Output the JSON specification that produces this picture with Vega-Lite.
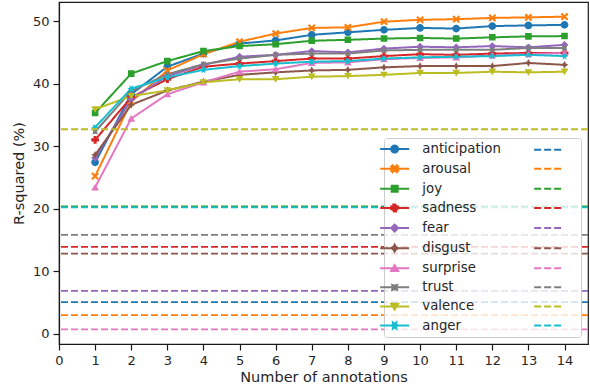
{
  "$schema": "https://vega.github.io/schema/vega-lite/v6.json",
  "autosize": "none",
  "width": 529,
  "height": 342,
  "padding": {"left": 59, "top": 2, "right": 2, "bottom": 48},
  "background": "white",
  "config": {
    "font": "DejaVu Sans",
    "view": {"stroke": "#1a1a1a", "strokeWidth": 1.2},
    "axis": {"domainColor": "#1a1a1a", "domainWidth": 1.2, "tickColor": "#1a1a1a", "tickWidth": 1.2, "tickSize": 6, "labelColor": "#262626", "titleColor": "#262626", "labelFont": "DejaVu Sans", "titleFont": "DejaVu Sans", "labelFontSize": 13, "titleFontSize": 14.5, "titleFontWeight": "normal", "grid": false, "labelPadding": 4}
  },
  "datasets": {
    "curves": [
      {"key": "anticipation", "n": 1, "r2": 27.4}, {"key": "anticipation", "n": 2, "r2": 38.3}, {"key": "anticipation", "n": 3, "r2": 42.7}, {"key": "anticipation", "n": 4, "r2": 44.8}, {"key": "anticipation", "n": 5, "r2": 46.4}, {"key": "anticipation", "n": 6, "r2": 46.9}, {"key": "anticipation", "n": 7, "r2": 47.8}, {"key": "anticipation", "n": 8, "r2": 48.2}, {"key": "anticipation", "n": 9, "r2": 48.6}, {"key": "anticipation", "n": 10, "r2": 48.9}, {"key": "anticipation", "n": 11, "r2": 48.8}, {"key": "anticipation", "n": 12, "r2": 49.2}, {"key": "anticipation", "n": 13, "r2": 49.3}, {"key": "anticipation", "n": 14, "r2": 49.4},
      {"key": "arousal", "n": 1, "r2": 25.2}, {"key": "arousal", "n": 2, "r2": 37.1}, {"key": "arousal", "n": 3, "r2": 42.1}, {"key": "arousal", "n": 4, "r2": 44.7}, {"key": "arousal", "n": 5, "r2": 46.7}, {"key": "arousal", "n": 6, "r2": 48.0}, {"key": "arousal", "n": 7, "r2": 48.9}, {"key": "arousal", "n": 8, "r2": 49.0}, {"key": "arousal", "n": 9, "r2": 49.9}, {"key": "arousal", "n": 10, "r2": 50.2}, {"key": "arousal", "n": 11, "r2": 50.3}, {"key": "arousal", "n": 12, "r2": 50.5}, {"key": "arousal", "n": 13, "r2": 50.6}, {"key": "arousal", "n": 14, "r2": 50.7},
      {"key": "joy", "n": 1, "r2": 35.3}, {"key": "joy", "n": 2, "r2": 41.6}, {"key": "joy", "n": 3, "r2": 43.6}, {"key": "joy", "n": 4, "r2": 45.2}, {"key": "joy", "n": 5, "r2": 46.0}, {"key": "joy", "n": 6, "r2": 46.3}, {"key": "joy", "n": 7, "r2": 46.85}, {"key": "joy", "n": 8, "r2": 47.0}, {"key": "joy", "n": 9, "r2": 47.2}, {"key": "joy", "n": 10, "r2": 47.3}, {"key": "joy", "n": 11, "r2": 47.2}, {"key": "joy", "n": 12, "r2": 47.4}, {"key": "joy", "n": 13, "r2": 47.55}, {"key": "joy", "n": 14, "r2": 47.6},
      {"key": "sadness", "n": 1, "r2": 31.0}, {"key": "sadness", "n": 2, "r2": 37.8}, {"key": "sadness", "n": 3, "r2": 40.7}, {"key": "sadness", "n": 4, "r2": 42.7}, {"key": "sadness", "n": 5, "r2": 43.2}, {"key": "sadness", "n": 6, "r2": 43.6}, {"key": "sadness", "n": 7, "r2": 44.0}, {"key": "sadness", "n": 8, "r2": 44.0}, {"key": "sadness", "n": 9, "r2": 44.4}, {"key": "sadness", "n": 10, "r2": 44.7}, {"key": "sadness", "n": 11, "r2": 44.6}, {"key": "sadness", "n": 12, "r2": 44.8}, {"key": "sadness", "n": 13, "r2": 44.9}, {"key": "sadness", "n": 14, "r2": 44.9},
      {"key": "fear", "n": 1, "r2": 28.1}, {"key": "fear", "n": 2, "r2": 37.5}, {"key": "fear", "n": 3, "r2": 41.2}, {"key": "fear", "n": 4, "r2": 43.0}, {"key": "fear", "n": 5, "r2": 44.3}, {"key": "fear", "n": 6, "r2": 44.6}, {"key": "fear", "n": 7, "r2": 45.2}, {"key": "fear", "n": 8, "r2": 45.0}, {"key": "fear", "n": 9, "r2": 45.6}, {"key": "fear", "n": 10, "r2": 45.9}, {"key": "fear", "n": 11, "r2": 45.8}, {"key": "fear", "n": 12, "r2": 46.0}, {"key": "fear", "n": 13, "r2": 45.8}, {"key": "fear", "n": 14, "r2": 46.2},
      {"key": "disgust", "n": 1, "r2": 28.6}, {"key": "disgust", "n": 2, "r2": 36.6}, {"key": "disgust", "n": 3, "r2": 38.9}, {"key": "disgust", "n": 4, "r2": 40.3}, {"key": "disgust", "n": 5, "r2": 41.4}, {"key": "disgust", "n": 6, "r2": 41.8}, {"key": "disgust", "n": 7, "r2": 42.1}, {"key": "disgust", "n": 8, "r2": 42.2}, {"key": "disgust", "n": 9, "r2": 42.6}, {"key": "disgust", "n": 10, "r2": 42.8}, {"key": "disgust", "n": 11, "r2": 42.8}, {"key": "disgust", "n": 12, "r2": 42.8}, {"key": "disgust", "n": 13, "r2": 43.3}, {"key": "disgust", "n": 14, "r2": 43.0},
      {"key": "surprise", "n": 1, "r2": 23.4}, {"key": "surprise", "n": 2, "r2": 34.4}, {"key": "surprise", "n": 3, "r2": 38.3}, {"key": "surprise", "n": 4, "r2": 40.2}, {"key": "surprise", "n": 5, "r2": 41.9}, {"key": "surprise", "n": 6, "r2": 42.3}, {"key": "surprise", "n": 7, "r2": 43.3}, {"key": "surprise", "n": 8, "r2": 43.4}, {"key": "surprise", "n": 9, "r2": 43.9}, {"key": "surprise", "n": 10, "r2": 44.1}, {"key": "surprise", "n": 11, "r2": 44.2}, {"key": "surprise", "n": 12, "r2": 44.5}, {"key": "surprise", "n": 13, "r2": 44.7}, {"key": "surprise", "n": 14, "r2": 44.9},
      {"key": "trust", "n": 1, "r2": 32.3}, {"key": "trust", "n": 2, "r2": 38.8}, {"key": "trust", "n": 3, "r2": 41.5}, {"key": "trust", "n": 4, "r2": 43.1}, {"key": "trust", "n": 5, "r2": 44.0}, {"key": "trust", "n": 6, "r2": 44.6}, {"key": "trust", "n": 7, "r2": 44.8}, {"key": "trust", "n": 8, "r2": 44.8}, {"key": "trust", "n": 9, "r2": 45.3}, {"key": "trust", "n": 10, "r2": 45.4}, {"key": "trust", "n": 11, "r2": 45.4}, {"key": "trust", "n": 12, "r2": 45.4}, {"key": "trust", "n": 13, "r2": 45.7}, {"key": "trust", "n": 14, "r2": 45.7},
      {"key": "valence", "n": 1, "r2": 35.9}, {"key": "valence", "n": 2, "r2": 38.0}, {"key": "valence", "n": 3, "r2": 38.9}, {"key": "valence", "n": 4, "r2": 40.2}, {"key": "valence", "n": 5, "r2": 40.7}, {"key": "valence", "n": 6, "r2": 40.7}, {"key": "valence", "n": 7, "r2": 41.1}, {"key": "valence", "n": 8, "r2": 41.2}, {"key": "valence", "n": 9, "r2": 41.4}, {"key": "valence", "n": 10, "r2": 41.7}, {"key": "valence", "n": 11, "r2": 41.7}, {"key": "valence", "n": 12, "r2": 41.9}, {"key": "valence", "n": 13, "r2": 41.8}, {"key": "valence", "n": 14, "r2": 41.9},
      {"key": "anger", "n": 1, "r2": 33.0}, {"key": "anger", "n": 2, "r2": 39.2}, {"key": "anger", "n": 3, "r2": 41.0}, {"key": "anger", "n": 4, "r2": 42.2}, {"key": "anger", "n": 5, "r2": 42.8}, {"key": "anger", "n": 6, "r2": 43.2}, {"key": "anger", "n": 7, "r2": 43.5}, {"key": "anger", "n": 8, "r2": 43.6}, {"key": "anger", "n": 9, "r2": 44.0}, {"key": "anger", "n": 10, "r2": 44.2}, {"key": "anger", "n": 11, "r2": 44.3}, {"key": "anger", "n": 12, "r2": 44.4}, {"key": "anger", "n": 13, "r2": 44.6}, {"key": "anger", "n": 14, "r2": 44.4}
    ],
    "baselines": [
      {"key": "anticipation baseline", "r2": 5.05},
      {"key": "arousal baseline", "r2": 2.97},
      {"key": "joy baseline", "r2": 20.35},
      {"key": "sadness baseline", "r2": 13.9},
      {"key": "fear baseline", "r2": 6.86},
      {"key": "disgust baseline", "r2": 12.8},
      {"key": "surprise baseline", "r2": 0.7},
      {"key": "trust baseline", "r2": 15.8},
      {"key": "valence baseline", "r2": 32.7},
      {"key": "anger baseline", "r2": 20.2}
    ]
  },
  "layer": [
    {
      "data": {"name": "curves"},
      "mark": {"type": "line", "strokeWidth": 2},
      "encoding": {
        "x": {"field": "n", "type": "quantitative", "scale": {"domain": [0, 14.65], "nice": false, "zero": false}, "axis": {"title": "Number of annotations", "values": [0,1,2,3,4,5,6,7,8,9,10,11,12,13,14], "labelFlush": false, "labelOverlap": false, "titlePadding": 3}},
        "y": {"field": "r2", "type": "quantitative", "scale": {"domain": [-1.65, 53.05], "nice": false, "zero": false}, "axis": {"title": "R-squared (%)", "values": [0,10,20,30,40,50], "titlePadding": 6}},
        "color": {
          "field": "key", "type": "nominal",
          "scale": {
            "domain": ["anticipation", "anticipation baseline", "arousal", "arousal baseline", "joy", "joy baseline", "sadness", "sadness baseline", "fear", "fear baseline", "disgust", "disgust baseline", "surprise", "surprise baseline", "trust", "trust baseline", "valence", "valence baseline", "anger", "anger baseline"],
            "range": ["#1f77b4", "#1f77b4", "#ff7f0e", "#ff7f0e", "#2ca02c", "#2ca02c", "#d62728", "#d62728", "#9467bd", "#9467bd", "#8c564b", "#8c564b", "#e377c2", "#e377c2", "#7f7f7f", "#7f7f7f", "#bcbd22", "#bcbd22", "#17becf", "#17becf"]
          },
          "legend": {
            "title": null,
            "columns": 2,
            "direction": "horizontal",
            "orient": "bottom-right",
            "offset": 7,
            "padding": 4,
            "fillColor": "rgba(255,255,255,0.8)",
            "strokeColor": "#cccccc",
            "cornerRadius": 3,
            "symbolSize": 49,
            "symbolStrokeWidth": 2,
            "labelOffset": 21,
            "columnPadding": 29,
            "rowPadding": 4.1,
            "labelFont": "DejaVu Sans",
            "labelFontSize": 13.3,
            "labelColor": "#262626",
            "labelLimit": 200,
            "labelExpr": "indexof(datum.value, 'baseline') >= 0 ? '  ' : datum.label"
          }
        },
        "strokeDash": {
          "field": "key", "type": "nominal",
          "scale": {
            "domain": ["anticipation", "anticipation baseline", "arousal", "arousal baseline", "joy", "joy baseline", "sadness", "sadness baseline", "fear", "fear baseline", "disgust", "disgust baseline", "surprise", "surprise baseline", "trust", "trust baseline", "valence", "valence baseline", "anger", "anger baseline"],
            "range": [[1, 0], [7, 3], [1, 0], [7, 3], [1, 0], [7, 3], [1, 0], [7, 3], [1, 0], [7, 3], [1, 0], [7, 3], [1, 0], [7, 3], [1, 0], [7, 3], [1, 0], [7, 3], [1, 0], [7, 3]]
          }
        }
      }
    },
    {
      "data": {"name": "curves"},
      "mark": {"type": "point", "filled": true, "size": 60, "opacity": 1, "strokeWidth": 0},
      "encoding": {
        "x": {"field": "n", "type": "quantitative", "scale": {"domain": [0, 14.65], "nice": false, "zero": false}, "axis": {"title": "Number of annotations", "values": [0,1,2,3,4,5,6,7,8,9,10,11,12,13,14], "labelFlush": false, "labelOverlap": false, "titlePadding": 3}},
        "y": {"field": "r2", "type": "quantitative", "scale": {"domain": [-1.65, 53.05], "nice": false, "zero": false}, "axis": {"title": "R-squared (%)", "values": [0,10,20,30,40,50], "titlePadding": 6}},
        "color": {
          "field": "key", "type": "nominal",
          "scale": {
            "domain": ["anticipation", "anticipation baseline", "arousal", "arousal baseline", "joy", "joy baseline", "sadness", "sadness baseline", "fear", "fear baseline", "disgust", "disgust baseline", "surprise", "surprise baseline", "trust", "trust baseline", "valence", "valence baseline", "anger", "anger baseline"],
            "range": ["#1f77b4", "#1f77b4", "#ff7f0e", "#ff7f0e", "#2ca02c", "#2ca02c", "#d62728", "#d62728", "#9467bd", "#9467bd", "#8c564b", "#8c564b", "#e377c2", "#e377c2", "#7f7f7f", "#7f7f7f", "#bcbd22", "#bcbd22", "#17becf", "#17becf"]
          }
        },
        "shape": {
          "field": "key", "type": "nominal",
          "scale": {
            "domain": ["anticipation", "anticipation baseline", "arousal", "arousal baseline", "joy", "joy baseline", "sadness", "sadness baseline", "fear", "fear baseline", "disgust", "disgust baseline", "surprise", "surprise baseline", "trust", "trust baseline", "valence", "valence baseline", "anger", "anger baseline"],
            "range": [
              "M-4.14,0H4.14M1,0C1,0.5523,0.5523,1,0,1C-0.5523,1,-1,0.5523,-1,0C-1,-0.5523,-0.5523,-1,0,-1C0.5523,-1,1,-0.5523,1,0Z", "M-4.14,0H4.14",
              "M-4.14,0H4.14M-1,-0.6L-0.6,-1L0,-0.4L0.6,-1L1,-0.6L0.4,0L1,0.6L0.6,1L0,0.4L-0.6,1L-1,0.6L-0.4,0Z", "M-4.14,0H4.14",
              "M-4.14,0H4.14M-0.85,-0.85H0.85V0.85H-0.85Z", "M-4.14,0H4.14",
              "M-4.14,0H4.14M-1,-0.4H-0.4V-1H0.4V-0.4H1V0.4H0.4V1H-0.4V0.4H-1Z", "M-4.14,0H4.14",
              "M-4.14,0H4.14M-1,0L0,-1L1,0L0,1Z", "M-4.14,0H4.14",
              "M-4.14,0H4.14M0,-1L0.354,-0.354L1,0L0.354,0.354L0,1L-0.354,0.354L-1,0L-0.354,-0.354Z", "M-4.14,0H4.14",
              "M-4.14,0H4.14M0,-0.9L1,0.8L-1,0.8Z", "M-4.14,0H4.14",
              "M-4.14,0H4.14M-0.707,-0.707L0,-0.5L0.707,-0.707L0.5,0L0.707,0.707L0,0.5L-0.707,0.707L-0.5,0Z", "M-4.14,0H4.14",
              "M-4.14,0H4.14M0,0.9L1,-0.8L-1,-0.8Z", "M-4.14,0H4.14",
              "M-4.14,0H4.14M1,0L0.433,0.25L0.5,0.866L0,0.5L-0.5,0.866L-0.433,0.25L-1,0L-0.433,-0.25L-0.5,-0.866L0,-0.5L0.5,-0.866L0.433,-0.25Z", "M-4.14,0H4.14"
            ]
          }
        }
      }
    },
    {
      "data": {"name": "baselines"},
      "mark": {"type": "rule", "strokeWidth": 1.8},
      "encoding": {
        "y": {"field": "r2", "type": "quantitative", "scale": {"domain": [-1.65, 53.05], "nice": false, "zero": false}, "axis": {"title": "R-squared (%)", "values": [0,10,20,30,40,50], "titlePadding": 6}},
        "color": {
          "field": "key", "type": "nominal",
          "scale": {
            "domain": ["anticipation", "anticipation baseline", "arousal", "arousal baseline", "joy", "joy baseline", "sadness", "sadness baseline", "fear", "fear baseline", "disgust", "disgust baseline", "surprise", "surprise baseline", "trust", "trust baseline", "valence", "valence baseline", "anger", "anger baseline"],
            "range": ["#1f77b4", "#1f77b4", "#ff7f0e", "#ff7f0e", "#2ca02c", "#2ca02c", "#d62728", "#d62728", "#9467bd", "#9467bd", "#8c564b", "#8c564b", "#e377c2", "#e377c2", "#7f7f7f", "#7f7f7f", "#bcbd22", "#bcbd22", "#17becf", "#17becf"]
          }
        },
        "strokeDash": {
          "field": "key", "type": "nominal",
          "scale": {
            "domain": ["anticipation", "anticipation baseline", "arousal", "arousal baseline", "joy", "joy baseline", "sadness", "sadness baseline", "fear", "fear baseline", "disgust", "disgust baseline", "surprise", "surprise baseline", "trust", "trust baseline", "valence", "valence baseline", "anger", "anger baseline"],
            "range": [[1, 0], [7, 3], [1, 0], [7, 3], [1, 0], [7, 3], [1, 0], [7, 3], [1, 0], [7, 3], [1, 0], [7, 3], [1, 0], [7, 3], [1, 0], [7, 3], [1, 0], [7, 3], [1, 0], [7, 3]]
          }
        }
      }
    }
  ]
}
